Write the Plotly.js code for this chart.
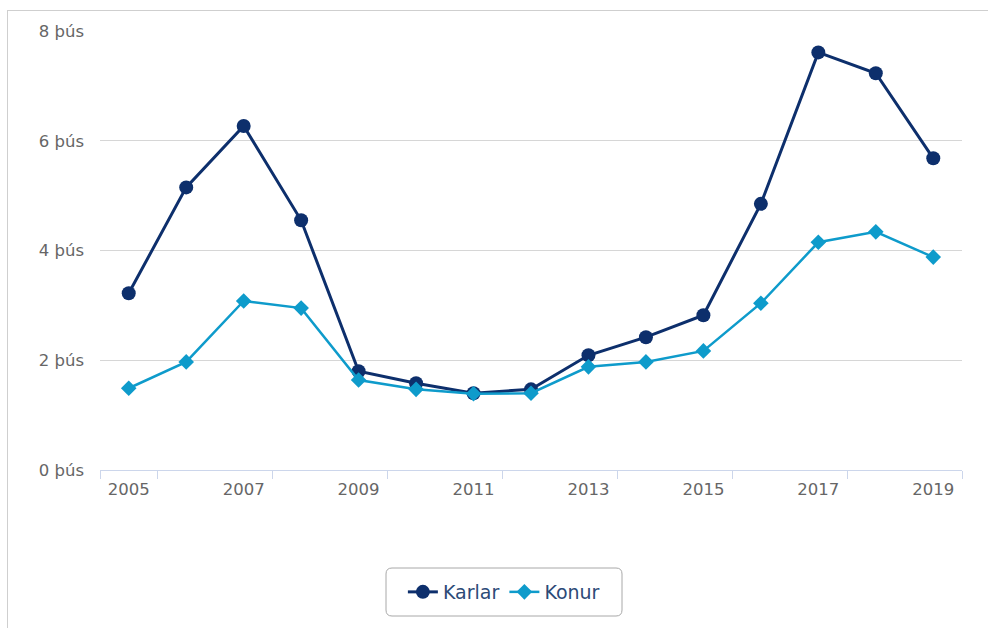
<!DOCTYPE html>
<html>
<head>
<meta charset="utf-8">
<script src="https://cdn.plot.ly/plotly-3.0.1.min.js"></script>
<style>
html,body{margin:0;padding:0;background:#fff;}
#wrap{position:relative;width:988px;height:628px;}
#chart{position:absolute;left:0;top:0;width:988px;height:628px;}
#frame{position:absolute;left:7px;top:10px;width:981px;height:618px;border-left:1px solid #cfcfcf;border-top:1px solid #cfcfcf;pointer-events:none;}
</style>
</head>
<body>
<div id="wrap"><div id="chart"></div><div id="frame"></div></div>
<script>
const years = [2005,2006,2007,2008,2009,2010,2011,2012,2013,2014,2015,2016,2017,2018,2019];
const karlar = [3.22,5.15,6.27,4.55,1.80,1.58,1.40,1.47,2.09,2.42,2.82,4.85,7.61,7.23,5.68];
const konur  = [1.49,1.97,3.08,2.95,1.64,1.47,1.39,1.40,1.88,1.97,2.17,3.04,4.15,4.34,3.88];
const labelYears = [2005,2007,2009,2011,2013,2015,2017,2019];
const boundaryTicks = [2004.5,2005.5,2007.5,2009.5,2011.5,2013.5,2015.5,2017.5,2019.5];
const yTicks = [0,2,4,6,8];

const navy = '#0d2f6c';
const cyan = '#0e9bcb';

const traces = [
  {x: years, y: karlar, name: 'Karlar', type: 'scatter', mode: 'lines+markers',
   line: {color: navy, width: 3}, marker: {color: navy, size: 14, symbol: 'circle'}},
  {x: years, y: konur, name: 'Konur', type: 'scatter', mode: 'lines+markers',
   line: {color: cyan, width: 2.5}, marker: {color: cyan, size: 12, symbol: 'diamond'}},
  {x: [years[0]], y: [null], xaxis: 'x2', yaxis: 'y', showlegend: false, hoverinfo: 'skip', mode: 'markers'}
];

// rounded legend frame (paper coords, plot area = 100..962 x 31..470 px)
const px = v => (v - 100) / 862;
const py = v => (470 - v) / 439;
const L = 386, R = 622, T = 568, B = 616, rad = 6;
const legendPath =
  `M ${px(L+rad)} ${py(T)} L ${px(R-rad)} ${py(T)} Q ${px(R)} ${py(T)} ${px(R)} ${py(T+rad)} ` +
  `L ${px(R)} ${py(B-rad)} Q ${px(R)} ${py(B)} ${px(R-rad)} ${py(B)} ` +
  `L ${px(L+rad)} ${py(B)} Q ${px(L)} ${py(B)} ${px(L)} ${py(B-rad)} ` +
  `L ${px(L)} ${py(T+rad)} Q ${px(L)} ${py(T)} ${px(L+rad)} ${py(T)} Z`;

const layout = {
  width: 988, height: 628,
  margin: {l: 100, r: 26, t: 31, b: 158},
  paper_bgcolor: '#fff', plot_bgcolor: '#fff',
  font: {family: 'DejaVu Sans, sans-serif', size: 16, color: '#666'},
  xaxis: {
    range: [2004.5, 2019.5], tickvals: labelYears, ticktext: labelYears.map(String),
    ticks: '', showgrid: false, zeroline: false,
    showline: true, linecolor: '#ccd6eb', linewidth: 1, ticklabelstandoff: 4,
    tickfont: {size: 16.5, color: '#666'}, fixedrange: true
  },
  xaxis2: {
    overlaying: 'x', anchor: 'y', side: 'bottom',
    range: [2004.5, 2019.5], tickvals: boundaryTicks, showticklabels: false,
    ticks: 'outside', ticklen: 8, tickcolor: '#ccd6eb', tickwidth: 1,
    showgrid: false, zeroline: false, showline: false
  },
  yaxis: {
    range: [0, 8], tickvals: yTicks, ticktext: yTicks.map(v => v + ' þús'),
    showgrid: true, gridcolor: '#d6d6d6', gridwidth: 1.2, zeroline: false,
    showline: false, ticks: '', ticklabelstandoff: 15,
    tickfont: {size: 16.5, color: '#666'}
  },
  shapes: [{
    type: 'path', xref: 'paper', yref: 'paper', path: legendPath,
    line: {color: '#a8a8a8', width: 1}, fillcolor: 'rgba(0,0,0,0)', layer: 'above'
  }],
  showlegend: true,
  legend: {
    orientation: 'h', xref: 'container', yref: 'container',
    x: 0.51, xanchor: 'center', y: 0.0573, yanchor: 'middle',
    borderwidth: 0, bgcolor: 'rgba(0,0,0,0)',
    font: {size: 19, color: '#2c4a77'}, itemwidth: 30
  }
};

Plotly.newPlot('chart', traces, layout, {displayModeBar: false, staticPlot: true});
</script>
</body>
</html>
